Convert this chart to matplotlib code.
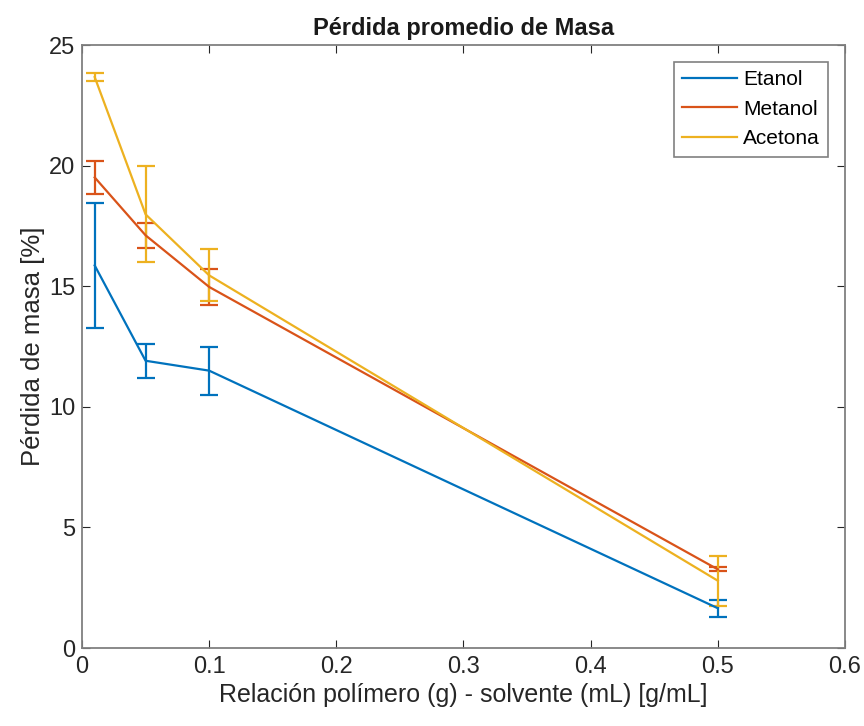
import matplotlib
matplotlib.use("Agg")
import matplotlib.pyplot as plt
from matplotlib.lines import Line2D

plt.rcParams['font.family'] = ['Liberation Sans', 'DejaVu Sans']

x = [0.01, 0.05, 0.1, 0.5]
series_names = ["Etanol", "Metanol", "Acetona"]
etanol = [15.86, 11.91, 11.5, 1.65]
etanol_err = [2.58, 0.7, 1.0, 0.35]
metanol = [19.51, 17.11, 14.97, 3.26]
metanol_err = [0.7, 0.52, 0.75, 0.08]
acetona = [23.67, 17.98, 15.45, 2.79]
acetona_err = [0.15, 1.99, 1.08, 1.04]
colors = ["#0072BD", "#D95319", "#EDB120"]

xticks = [0, 0.1, 0.2, 0.3, 0.4, 0.5, 0.6]
yticks = [0, 5, 10, 15, 20, 25]

fig = plt.figure(figsize=(8.64, 7.26), dpi=100)
ax = fig.add_axes([0.0949, 0.1074, 0.8831, 0.8306])

for y, e, c, n in zip([etanol, metanol, acetona], [etanol_err, metanol_err, acetona_err], colors, series_names):
    ax.errorbar(x, y, yerr=e, color=c, lw=1.6, capsize=6.5, capthick=1.6, elinewidth=1.6)

ax.set_xlim(0, 0.6)
ax.set_ylim(0, 25)
ax.set_xticks(xticks)
ax.set_xticklabels([f"{t:g}" for t in xticks])
ax.set_yticks(yticks)
ax.tick_params(direction='in', top=True, right=True, labelsize=17, colors='#262626', length=6)
ax.tick_params(axis='x', pad=6)
ax.tick_params(axis='y', pad=5)
for s in ax.spines.values():
    s.set_color('#808080')
    s.set_linewidth(1.3)
ax.set_title("Pérdida promedio de Masa", fontsize=17, fontweight='bold', color='#1a1a1a', pad=7)
ax.set_xlabel("Relación polímero (g) - solvente (mL) [g/mL]", fontsize=18, color='#262626', labelpad=3)
ax.set_ylabel("Pérdida de masa [%]", fontsize=18.5, color='#262626', labelpad=3)

handles = [Line2D([], [], color=c, lw=1.6) for c in colors]
leg = ax.legend(handles, series_names, loc='upper right', bbox_to_anchor=(0.9777, 0.9718), borderaxespad=0,
                fontsize=15, fancybox=False, edgecolor='#808080', framealpha=1,
                handlelength=2.6, handletextpad=0.3, labelspacing=0.5, borderpad=0.4)
leg.get_frame().set_linewidth(1.2)

fig.savefig("out.png", dpi=100)
